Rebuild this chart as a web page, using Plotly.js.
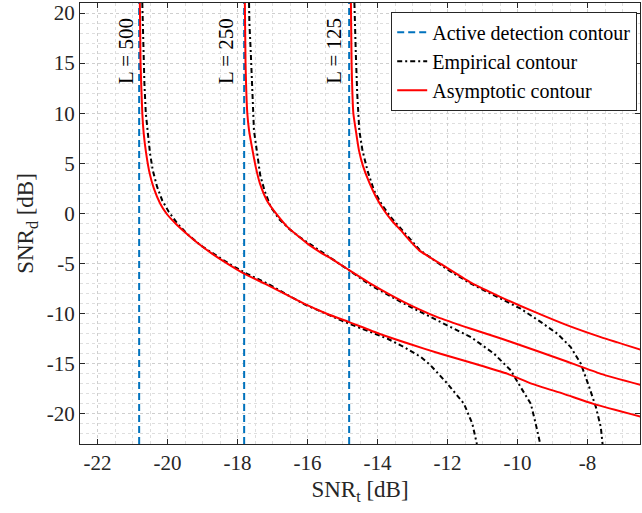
<!DOCTYPE html>
<html>
<head>
<meta charset="utf-8">
<script src="https://cdn.plot.ly/plotly-3.0.1.min.js"></script>
<style>html,body{margin:0;padding:0;background:#fff;}#chart{width:642px;height:513px;}</style>
</head>
<body>
<div id="chart"></div>
<script>
// Axis ticks
const xTickVals = [-22, -20, -18, -16, -14, -12, -10, -8];
const xTickText = ['-22', '-20', '-18', '-16', '-14', '-12', '-10', '-8'];
const yTickVals = [-20, -15, -10, -5, 0, 5, 10, 15, 20];
const yTickText = ['-20', '-15', '-10', '-5', '0', '5', '10', '15', '20'];
const yRange = [-23, 21];
const xRange = [-22.5, -6.5];

// Active detection contours (vertical lines) for L = 500, 250, 125
const activeX = [-20.81, -17.81, -14.81];
const lLabels = ['L = 500', 'L = 250', 'L = 125'];
const labelX = [-21.19, -18.33, -15.25];
const labelY = [16.2, 16.2, 16.2];

// Asymptotic contours
const asym500X = [-20.79, -20.77, -20.72, -20.68, -20.61, -20.51, -20.39, -20.21, -20.03, -19.77, -19.46, -19.12, -18.73, -18.29, -17.81, -17.22, -16.66, -16.10, -15.45, -14.81, -13.95, -13.10, -12.20, -11.22, -10.28, -9.58, -8.68, -7.83, -6.45];
const asym500Y = [21, 15, 10, 8, 6, 4, 2.5, 1, 0, -1, -2, -3, -4, -5, -6, -7, -8, -9, -10, -10.84, -12, -13, -14, -15, -16, -17, -18, -19, -20.3];
const asym250X = [-17.79, -17.77, -17.72, -17.67, -17.57, -17.47, -17.36, -17.16, -16.90, -16.57, -16.25, -16.0, -15.62, -15.24, -14.81, -14.15, -13.24, -12.29, -11.33, -10.45, -9.50, -8.57, -7.62, -6.42];
const asym250Y = [21, 15, 10, 8.3, 6.3, 4.5, 3.0, 1.3, 0, -1.36, -2.3, -3.01, -3.9, -4.68, -5.65, -7.1, -8.84, -10.34, -11.5, -12.5, -13.65, -14.8, -16.0, -17.16];
const asym125X = [-14.76, -14.74, -14.69, -14.62, -14.53, -14.42, -14.26, -14.05, -13.81, -13.58, -13.33, -13.08, -12.81, -12.0, -11.33, -10.48, -9.53, -8.57, -7.62, -6.42];
const asym125Y = [21, 15, 10, 8.3, 6.3, 4.8, 3.3, 1.7, 0.3, -0.75, -1.69, -2.7, -3.68, -5.45, -6.9, -8.34, -9.8, -11.17, -12.34, -13.66];

// Empirical contours
const emp500X = [-20.72, -20.71, -20.69, -20.66, -20.62, -20.57, -20.50, -20.42, -20.30, -20.15, -19.97, -19.72, -19.42, -19.05, -18.62, -18.20, -17.77, -17.14, -16.10, -14.81, -14.19, -13.71, -13.24, -12.76, -12.48, -12.0, -11.53, -11.29, -11.16];
const emp500Y = [21, 19, 16, 13, 10, 8, 6, 4.3, 2.7, 1.3, 0.2, -1.0, -2.1, -3.2, -4.2, -5.1, -5.95, -7.0, -9.05, -11.0, -11.84, -12.5, -13.33, -14.33, -15.16, -16.99, -18.98, -20.98, -23.0];
const emp250X = [-17.67, -17.66, -17.62, -17.57, -17.53, -17.45, -17.35, -17.22, -17.05, -16.80, -16.52, -16.25, -15.97, -15.62, -15.24, -14.81, -14.19, -13.24, -12.29, -11.33, -10.67, -10.38, -10.19, -9.91, -9.62, -9.48, -9.35];
const emp250Y = [21, 19, 16, 12, 8.3, 6.3, 3.8, 2.2, 0.64, -0.6, -1.55, -2.3, -2.95, -3.8, -4.65, -5.68, -7.18, -9.0, -10.67, -12.34, -13.99, -14.99, -15.66, -17.33, -18.98, -20.98, -23.0];
const emp125X = [-14.66, -14.65, -14.62, -14.58, -14.52, -14.43, -14.28, -14.10, -13.88, -13.62, -13.30, -13.05, -12.79, -12.0, -11.33, -10.48, -10.19, -9.91, -9.33, -8.86, -8.48, -8.19, -7.95, -7.76, -7.62, -7.57];
const emp125Y = [21, 19, 16, 12, 8.3, 6.3, 4.2, 2.3, 0.9, -0.36, -1.65, -2.65, -3.65, -5.6, -7.01, -8.5, -9.0, -9.5, -10.84, -12.0, -13.33, -14.99, -17.33, -19.32, -21.32, -23.0];

const BLUE = '#0072BD', RED = '#FF0000', BLACK = '#000000';
const FONT = 'Liberation Serif, Times New Roman, serif';

const traces = [];
activeX.forEach((v, i) => {
  traces.push({x: [v, v], y: yRange, mode: 'lines', type: 'scatter',
    line: {color: BLUE, width: 2, dash: '7px,4px'},
    name: 'Active detection contour', legendgroup: 'a', showlegend: i === 0, hoverinfo: 'skip'});
});
[[emp500X, emp500Y], [emp250X, emp250Y], [emp125X, emp125Y]].forEach((d, i) => {
  traces.push({x: d[0], y: d[1], mode: 'lines', type: 'scatter',
    line: {color: BLACK, width: 2, dash: '5px,3px,2px,3px'},
    name: 'Empirical contour', legendgroup: 'e', showlegend: i === 0, hoverinfo: 'skip'});
});
[[asym500X, asym500Y], [asym250X, asym250Y], [asym125X, asym125Y]].forEach((d, i) => {
  traces.push({x: d[0], y: d[1], mode: 'lines', type: 'scatter',
    line: {color: RED, width: 2, shape: 'spline', smoothing: 0.5},
    name: 'Asymptotic contour', legendgroup: 'r', showlegend: i === 0, hoverinfo: 'skip'});
});

const annotations = lLabels.map((t, i) => ({
  x: labelX[i], y: labelY[i], xref: 'x', yref: 'y', text: t, showarrow: false,
  textangle: -90, font: {family: FONT, size: 21, color: '#000'}
}));

const axisCommon = {
  showline: true, linecolor: '#262626', linewidth: 1, mirror: 'ticks',
  ticks: 'inside', ticklen: 5, tickcolor: '#262626', tickwidth: 1,
  showgrid: true, gridcolor: '#cfcfcf', griddash: 'dot', gridwidth: 1,
  zeroline: false, tickfont: {family: FONT, size: 21, color: '#262626'}
};

const layout = {
  width: 642, height: 513,
  margin: {l: 80, r: 2, t: 3, b: 69},
  paper_bgcolor: '#fff', plot_bgcolor: '#fff',
  showlegend: true,
  legend: {x: 0.995, y: 0.98, xanchor: 'right', yanchor: 'top',
    bgcolor: '#fff', bordercolor: '#262626', borderwidth: 1,
    font: {family: FONT, size: 20, color: '#000'}, tracegroupgap: 0, itemwidth: 30},
  xaxis: Object.assign({}, axisCommon, {
    range: xRange, tickmode: 'array', tickvals: xTickVals, ticktext: xTickText,
    minor: {dtick: 0.5, tick0: 0, showgrid: true, gridcolor: '#dedede', griddash: 'dot', ticks: ''},
    title: {text: 'SNR<sub>t</sub> [dB]', font: {family: FONT, size: 23, color: '#262626'}, standoff: 6}
  }),
  yaxis: Object.assign({}, axisCommon, {
    range: yRange, tickmode: 'array', tickvals: yTickVals, ticktext: yTickText,
    minor: {dtick: 1, tick0: 0, showgrid: true, gridcolor: '#dedede', griddash: 'dot', ticks: ''},
    title: {text: 'SNR<sub>d</sub> [dB]', font: {family: FONT, size: 23, color: '#262626'}, standoff: 6}
  }),
  annotations: annotations
};

Plotly.newPlot('chart', traces, layout, {displayModeBar: false, staticPlot: true});
</script>
</body>
</html>
